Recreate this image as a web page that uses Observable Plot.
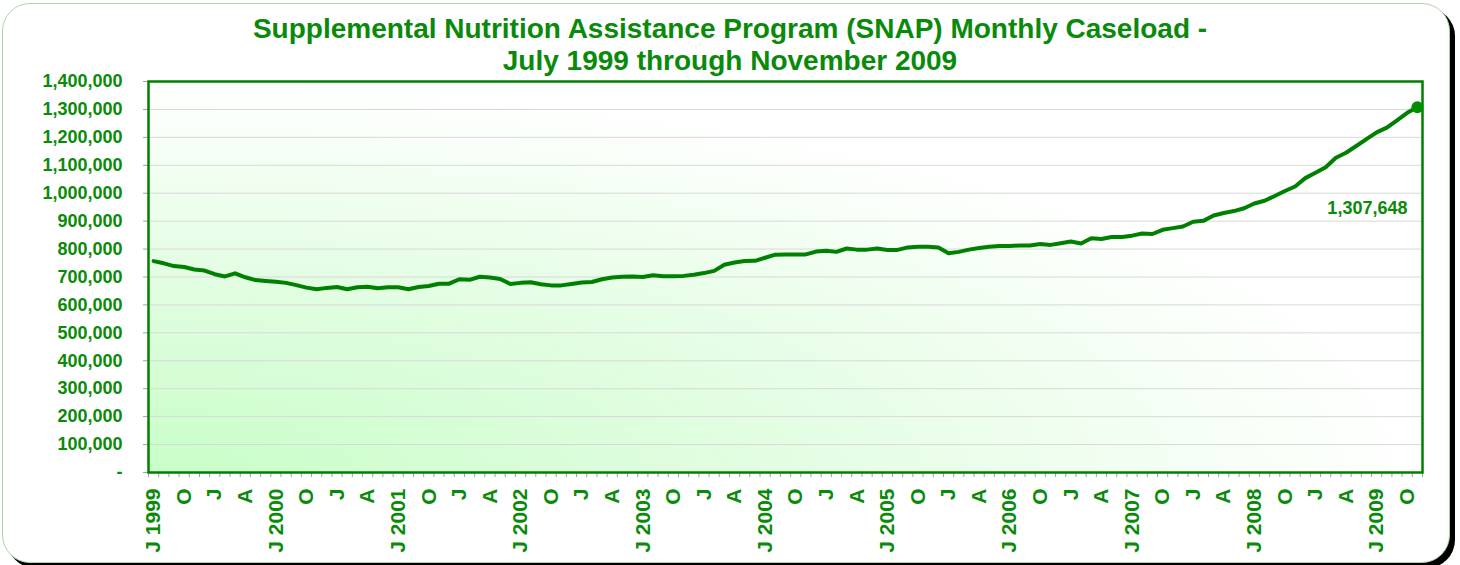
<!DOCTYPE html>
<html><head><meta charset="utf-8">
<script src="https://cdn.jsdelivr.net/npm/d3@7"></script>
<script src="https://cdn.jsdelivr.net/npm/@observablehq/plot@0.6"></script>
<style>
body{margin:0;background:#fff;font-family:"Liberation Sans",Arial,sans-serif;}
#wrap{position:relative;width:1460px;height:565px;overflow:hidden;background:#fff;}
#frame{position:absolute;left:2px;top:3px;width:1446px;height:558px;border:1.5px solid #a6d8a6;border-radius:28px;box-shadow:5px 5px 0 #000;background:#fff;}
#title{position:absolute;left:0;top:13px;width:1460px;text-align:center;color:#0a8a0a;font-weight:bold;font-size:28px;line-height:32px;}
#chart{position:absolute;left:0;top:0;}
</style></head>
<body><div id="wrap"><div id="frame"></div><div id="chart"></div><div id="title">Supplemental Nutrition Assistance Program (SNAP) Monthly Caseload -<br>July 1999 through November 2009</div></div>
<script>
// Monthly SNAP caseload, July 1999 .. November 2009 (125 months)
const startMonth = new Date(Date.UTC(1999, 6, 1));
const endMonth = new Date(Date.UTC(2009, 11, 1)); // exclusive
const months = d3.utcMonths(startMonth, endMonth);
const caseload = [
  757000, 749000, 739000, 736000, 727000, 723000, 710000, 702000, 713000, 699000, 689000, 686000,
  683000, 679000, 671000, 662000, 656000, 661000, 664000, 656000, 663000, 665000, 660000, 663000,
  663000, 656000, 664000, 668000, 676000, 676000, 692000, 690000, 701000, 698000, 693000, 675000,
  679000, 681000, 674000, 670000, 670000, 675000, 680000, 682000, 692000, 698000, 701000, 702000,
  700000, 706000, 703000, 703000, 704000, 708000, 714000, 722000, 744000, 752000, 757000, 758000,
  769000, 780000, 781000, 781000, 781000, 791000, 794000, 790000, 802000, 798000, 798000, 802000,
  797000, 797000, 806000, 808000, 808000, 806000, 785000, 790000, 798000, 804000, 808000, 811000,
  811000, 813000, 813000, 818000, 815000, 821000, 827000, 820000, 839000, 836000, 843000, 843000,
  848000, 856000, 854000, 869000, 875000, 881000, 898000, 901000, 920000, 929000, 936000, 946000,
  963000, 973000, 990000, 1008000, 1024000, 1054000, 1073000, 1093000, 1127000, 1145000, 1169000, 1194000,
  1218000, 1235000, 1261000, 1288000, 1307648
];
const tickLabels = ["J 1999","O","J","A","J 2000","O","J","A","J 2001","O","J","A",
  "J 2002","O","J","A","J 2003","O","J","A","J 2004","O","J","A","J 2005","O","J","A",
  "J 2006","O","J","A","J 2007","O","J","A","J 2008","O","J","A","J 2009","O"];
const labelEvery = 3;
const yTicks = [0,100000,200000,300000,400000,500000,600000,700000,800000,900000,1000000,1100000,1200000,1300000,1400000];

const data = caseload.map((v, i) => ({i, month: months[i], v}));
const last = data[data.length - 1];
const n = data.length;
const boundaries = d3.range(n + 1).map(i => i - 0.5);
const labelPos = tickLabels.map((_, k) => k * labelEvery);

const green = "#008000";
const textGreen = "#0a8a0a";
const fmt = d3.format(",");

const chart = Plot.plot({
  width: 1460, height: 565,
  marginTop: 81, marginBottom: 93, marginLeft: 148, marginRight: 38,
  style: {background: "transparent", fontFamily: "'Liberation Sans', Arial, sans-serif", overflow: "visible"},
  x: {type: "linear", domain: [-0.5, n - 0.5], axis: null},
  y: {domain: [0, 1400000], axis: null},
  marks: [
    Plot.frame({fill: "url(#bgGrad)", stroke: null}),
    Plot.gridY(yTicks, {stroke: "#d8d8d8", strokeOpacity: 1, strokeWidth: 1}),
    Plot.axisY(yTicks, {text: null, label: null, tickSize: 5, stroke: "#a0a0a0"}),
    Plot.axisY(yTicks, {label: null, tickSize: 0, tickPadding: 26, tickFormat: d => d === 0 ? "-" : fmt(d),
      fontSize: 18, fontWeight: "bold", fill: textGreen}),
    Plot.axisX(boundaries, {text: null, label: null, tickSize: 5, stroke: "#a0a0a0"}),
    Plot.axisX(labelPos, {label: null, tickSize: 0, tickPadding: 16, tickRotate: -90, textAnchor: "end",
      tickFormat: d => tickLabels[d / labelEvery], fontSize: 21, fontWeight: "bold", fill: textGreen}),
    Plot.frame({stroke: green, strokeWidth: 2.5}),
    Plot.line(data, {x: "i", y: "v", stroke: green, strokeWidth: 4, strokeLinejoin: "round", strokeLinecap: "round"}),
    Plot.dot([last], {x: "i", y: "v", r: 6, fill: "#009000", stroke: null}),
    Plot.text([last], {x: "i", y: "v", text: d => fmt(d.v), dx: -50, dy: 101,
      fontSize: 18, fontWeight: "bold", fill: textGreen})
  ]
});

const ns = "http://www.w3.org/2000/svg";
const defs = document.createElementNS(ns, "defs");
defs.innerHTML = `<radialGradient id="bgGrad" cx="0" cy="1" r="1" fx="0" fy="1">
  <stop offset="0" stop-color="#c8fec8"/>
  <stop offset="0.45" stop-color="#e0fde0"/>
  <stop offset="1" stop-color="#ffffff"/>
</radialGradient>`;
chart.insertBefore(defs, chart.firstChild);
document.getElementById("chart").appendChild(chart);
</script>
</body></html>
